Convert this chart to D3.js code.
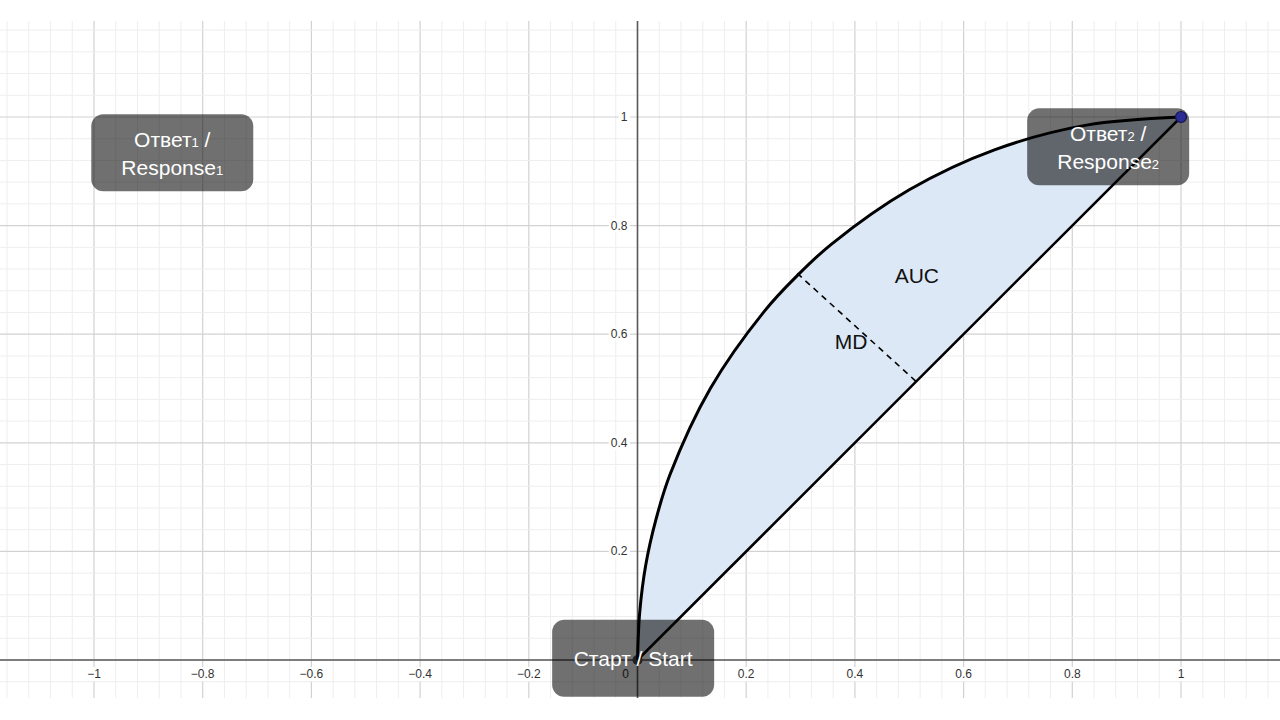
<!DOCTYPE html>
<html>
<head>
<meta charset="utf-8">
<script src="https://cdn.jsdelivr.net/npm/d3@7"></script>
<style>
body{margin:0;background:#fff}
svg{display:block}
</style>
</head>
<body>
<div class="chart"></div>
<script>
// values
const xTicks=[-1,-0.8,-0.6,-0.4,-0.2,0.2,0.4,0.6,0.8,1]
const yTicks=[0.2,0.4,0.6,0.8,1]
// upper curve (start -> response 2)
const curvePts=[[0,0],[0.004,0.087],[0.015,0.174],[0.034,0.259],[0.06,0.342],[0.134,0.5],
	[0.234,0.643],[0.293,0.707],[0.357,0.766],[0.5,0.866],[0.658,0.94],[0.826,0.985],[1,1]]
const diagPts=[[0,0],[1,1]]
const mdPts=[[0.294,0.712],[0.517,0.509]]
const points=[{x:0,y:0,c:'#4a4a4a'},{x:1,y:1,c:'#2b2b96'}]
const boxes=[
	{x:-0.856,y:0.934,lines:[['Ответ','1',' /'],['Response','1','']]},
	{x:0.866,y:0.945,lines:[['Ответ','2',' /'],['Response','2','']]},
	{x:-0.008,y:0.003,lines:[['Старт / Start','','']]}
]
const tags=[{x:0.514,y:0.709,t:'AUC'},{x:0.393,y:0.587,t:'MD'}]

const W=1280,H=720
const svg=d3.select('.chart').append('svg')
	.attr('width',W).attr('height',H)

const x=d3.scaleLinear().domain([-1,1]).range([94,1181])
const y=d3.scaleLinear().domain([0,1]).range([660,117])
const gTop=21,gBottom=698
const font='Liberation Sans, Arial, sans-serif'

// grid
const gx=d3.range(-29,30).map(i=>+(i*0.04).toFixed(2))
const gy=d3.range(-1,30).map(i=>+(i*0.04).toFixed(2))
const isMajor=v=>Math.abs(Math.round(v/0.2)*0.2-v)<1e-6

const grid=svg.append('g')
grid.selectAll('.vx').data(gx).enter().append('line')
	.attr('x1',d=>x(d)).attr('x2',d=>x(d))
	.attr('y1',gTop).attr('y2',gBottom)
	.attr('stroke',d=>isMajor(d)?'#d2d2d2':'#eeeeee')
	.attr('stroke-width',d=>isMajor(d)?1.2:1)
grid.selectAll('.hy').data(gy).enter().append('line')
	.attr('y1',d=>y(d)).attr('y2',d=>y(d))
	.attr('x1',0).attr('x2',W)
	.attr('stroke',d=>isMajor(d)?'#d2d2d2':'#eeeeee')
	.attr('stroke-width',d=>isMajor(d)?1.2:1)

// axes
svg.append('line').attr('x1',0).attr('x2',W).attr('y1',y(0)).attr('y2',y(0))
	.attr('stroke','#5a5a5a').attr('stroke-width',1.6)
svg.append('line').attr('x1',x(0)).attr('x2',x(0)).attr('y1',gTop).attr('y2',gBottom)
	.attr('stroke','#5a5a5a').attr('stroke-width',1.6)

const fmt=v=>String(v).replace('-','\u2212')
const lab=svg.append('g').attr('font-family',font)
	.attr('font-size',12).attr('fill','#333')

function addLabel(g,tx,ty,txt,anchor){
	const t=g.append('text').attr('x',tx).attr('y',ty)
		.attr('text-anchor',anchor).attr('dominant-baseline','central').text(txt)
	const b=t.node().getBBox()
	g.insert('rect','text').attr('x',b.x-2).attr('y',b.y).attr('width',b.width+4)
		.attr('height',b.height).attr('fill','#fff')
}
xTicks.forEach(v=>{
	const g=lab.append('g')
	addLabel(g,x(v),y(0)+14,fmt(v),'middle')
})
yTicks.forEach(v=>{
	const g=lab.append('g')
	addLabel(g,x(0)-10,y(v),fmt(v),'end')
})
addLabel(lab.append('g'),x(0)-12,y(0)+14,'0','middle')

// area between curve and diagonal
const line=d3.line().x(d=>x(d[0])).y(d=>y(d[1]))
const smooth=d3.line().x(d=>x(d[0])).y(d=>y(d[1])).curve(d3.curveCatmullRom.alpha(0.5))

svg.append('path').attr('d',smooth(curvePts)+'Z')
	.attr('fill','#dce8f5').attr('stroke','none')

svg.append('circle').attr('cx',x(points[0].x)).attr('cy',y(points[0].y)).attr('r',5)
	.attr('fill',points[0].c)

// label boxes (semi transparent)
const bw=162,bh=77
const bx=svg.append('g')
bx.selectAll('rect').data(boxes).enter().append('rect')
	.attr('x',d=>x(d.x)-bw/2).attr('y',d=>y(d.y)-bh/2)
	.attr('width',bw).attr('height',bh).attr('rx',12)
	.attr('fill','#000').attr('fill-opacity',0.56)

// lines
svg.append('path').attr('d',line(diagPts)).attr('fill','none')
	.attr('stroke','#000').attr('stroke-width',2.5)
svg.append('path').attr('d',smooth(curvePts)).attr('fill','none')
	.attr('stroke','#000').attr('stroke-width',3)
svg.append('path').attr('d',line(mdPts)).attr('fill','none')
	.attr('stroke','#000').attr('stroke-width',1.6).attr('stroke-dasharray','6,5')

svg.append('circle').attr('cx',x(points[1].x)).attr('cy',y(points[1].y)).attr('r',5.5)
	.attr('fill',points[1].c).attr('stroke','#15154a').attr('stroke-width',1.2)

svg.selectAll('.tag').data(tags).enter().append('text')
	.attr('x',d=>x(d.x)).attr('y',d=>y(d.y))
	.attr('text-anchor','middle').attr('dominant-baseline','central')
	.attr('font-family',font).attr('font-size',21)
	.attr('fill','#111').text(d=>d.t)

// box texts
boxes.forEach(b=>{
	const n=b.lines.length
	b.lines.forEach((ln,i)=>{
		const t=svg.append('text')
			.attr('x',x(b.x)).attr('y',y(b.y)+(i-(n-1)/2)*28)
			.attr('text-anchor','middle').attr('dominant-baseline','central')
			.attr('font-family',font).attr('font-size',21)
			.attr('fill','#fff')
		t.append('tspan').text(ln[0])
		if(ln[1]) t.append('tspan').attr('font-size',13).attr('dy',3).text(ln[1])
		if(ln[2]) t.append('tspan').attr('dy',-3).text(ln[2])
	})
})
</script>
</body>
</html>
